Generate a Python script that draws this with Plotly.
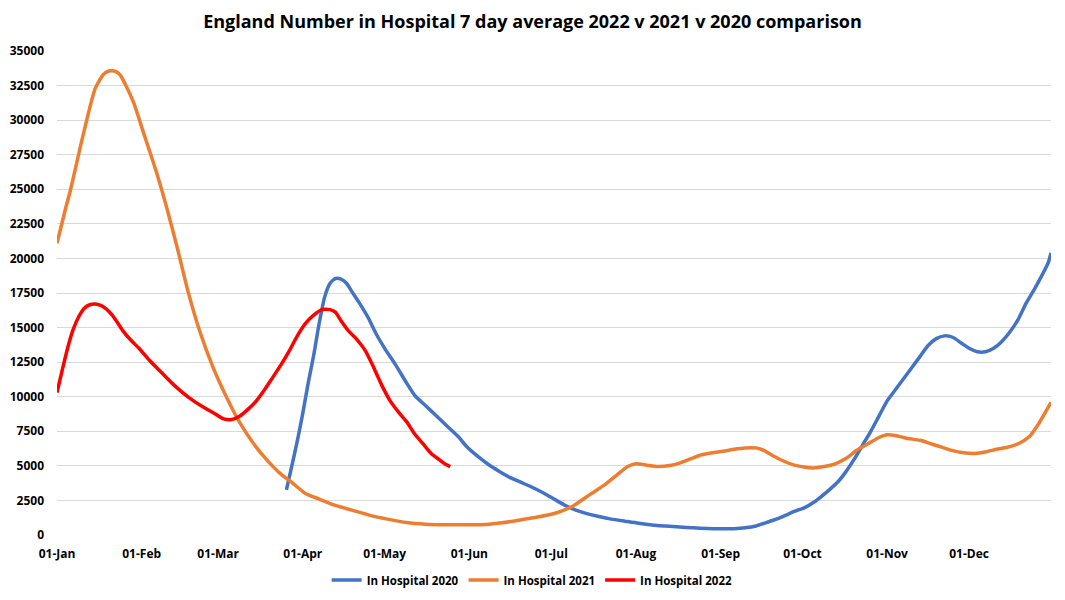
import pandas as pd
import plotly.graph_objects as go

# all three years drawn on a common Jan..Dec axis (non-leap reference year)
BASE = pd.Timestamp("2021-01-01")

# 7 day average number in hospital (day of year offset, value)
days_2020 = [84, 86, 88, 90, 92, 94, 96, 98, 100, 102, 104, 106, 108, 111, 114, 117, 120, 124,
             128, 131, 135, 139, 143, 147, 150, 154, 158, 162, 166, 170, 174, 178, 182, 186, 190,
             194, 198, 203, 208, 213, 218, 223, 228, 233, 238, 243, 248, 252, 256, 259, 262, 266,
             270, 274, 277, 280, 283, 286, 289, 292, 295, 298, 301, 304, 307, 310, 313, 316, 319,
             322, 325, 328, 331, 334, 337, 340, 343, 346, 349, 352, 355, 358, 361, 363, 364]
hosp_2020 = [3270, 5000, 6800, 8800, 11000, 13000, 15300, 17200, 18200, 18550, 18500, 18200, 17600,
             16700, 15700, 14500, 13500, 12300, 11000, 10100, 9350, 8600, 7850, 7100, 6400, 5700,
             5100, 4600, 4150, 3800, 3450, 3050, 2600, 2150, 1800, 1550, 1350, 1150, 1000, 850, 730,
             650, 580, 520, 470, 450, 460, 520, 650, 850, 1050, 1350, 1700, 2000, 2350, 2800, 3300,
             3850, 4600, 5500, 6500, 7500, 8600, 9700, 10500, 11300, 12100, 12900, 13700, 14200,
             14400, 14300, 13900, 13500, 13250, 13250, 13500, 14000, 14700, 15600, 16800, 17800,
             18900, 19700, 20400]

days_2021 = [0, 3, 5, 8, 11, 14, 17, 19, 21, 23, 25, 28, 32, 36, 40, 44, 48, 52, 57, 62, 67, 72, 77,
             82, 86, 91, 96, 101, 108, 115, 121, 128, 135, 142, 150, 157, 163, 170, 176, 181, 185,
             189, 195, 201, 206, 209, 212, 216, 220, 225, 228, 232, 236, 240, 244, 248, 252, 256,
             259, 262, 266, 270, 274, 277, 281, 285, 289, 293, 297, 301, 304, 307, 311, 316, 320,
             324, 328, 332, 336, 340, 344, 348, 352, 356, 359, 362, 364]
hosp_2021 = [21100, 23500, 25000, 27600, 30100, 32300, 33300, 33550, 33550, 33300, 32600, 31300,
             28900, 26500, 23800, 20800, 17600, 14900, 12200, 10000, 8100, 6600, 5400, 4400, 3800,
             3000, 2600, 2200, 1800, 1400, 1150, 900, 780, 740, 740, 760, 880, 1100, 1300, 1500,
             1750, 2100, 2900, 3700, 4500, 4950, 5150, 5050, 4950, 5050, 5200, 5500, 5800, 5950,
             6050, 6200, 6300, 6300, 6100, 5750, 5350, 5050, 4900, 4850, 4950, 5150, 5550, 6150,
             6600, 7050, 7250, 7200, 7000, 6850, 6600, 6350, 6100, 5950, 5900, 6000, 6200, 6350,
             6600, 7100, 7900, 8900, 9600]

days_2022 = [0, 2, 4, 6, 8, 10, 12, 14, 16, 18, 20, 22, 24, 27, 30, 34, 38, 42, 46, 50, 54, 58, 61,
             64, 67, 70, 73, 76, 79, 82, 85, 88, 91, 94, 97, 100, 102, 104, 107, 110, 113, 116, 119,
             122, 125, 128, 131, 134, 137, 140, 142, 144]
hosp_2022 = [10300, 12000, 13600, 14900, 15800, 16400, 16650, 16700, 16600, 16350, 15950, 15400,
             14800, 14100, 13500, 12600, 11800, 11000, 10300, 9700, 9200, 8750, 8400, 8350, 8600,
             9100, 9700, 10500, 11400, 12300, 13300, 14400, 15300, 15900, 16300, 16300, 16100, 15500,
             14700, 14100, 13300, 12100, 10800, 9700, 8900, 8200, 7300, 6600, 5900, 5450, 5150, 4950]

month_ticks = pd.date_range("2021-01-01", "2021-12-01", freq="MS")

series = [
    ("In Hospital 2020", days_2020, hosp_2020, "#4472C4"),
    ("In Hospital 2021", days_2021, hosp_2021, "#ED7D31"),
    ("In Hospital 2022", days_2022, hosp_2022, "#FF0000"),
]

fig = go.Figure()
for name, days, vals, colour in series:
    fig.add_trace(go.Scatter(
        x=BASE + pd.to_timedelta(days, unit="D"),
        y=vals,
        mode="lines",
        name=name,
        line=dict(color=colour, width=3.5, shape="spline", smoothing=0.6),
    ))

# page body keeps its 8px margin, so the figure is 16px smaller than the 1065x600 window
fig.update_layout(
    title=dict(
        text="England Number in Hospital 7 day average 2022 v 2021 v 2020 comparison",
        font=dict(size=18, color="#000000", weight="bold"),
        x=0.5, xanchor="center", y=0.976, yanchor="middle",
    ),
    xaxis=dict(
        type="date",
        range=["2021-01-01", "2021-12-31"],
        tickvals=month_ticks,
        tickformat="%d-%b",
        showgrid=False,
        zeroline=False,
        showline=False,
        ticks="",
        ticklabelstandoff=10,
        automargin=False,
        tickfont=dict(size=12, color="#000000", weight="bold"),
    ),
    yaxis=dict(
        range=[0, 35000],
        dtick=2500,
        tickformat="d",
        showgrid=True,
        gridcolor="#D9D9D9",
        gridwidth=1,
        zeroline=False,
        showline=False,
        ticks="",
        ticklabelstandoff=12,
        automargin=False,
        tickfont=dict(size=12, color="#000000", weight="bold"),
    ),
    legend=dict(
        orientation="h",
        x=0.478, xanchor="center",
        y=-0.093, yanchor="middle",
        font=dict(size=11.5, color="#000000", weight="bold"),
        itemwidth=30,
        tracegroupgap=0,
    ),
    font=dict(family="Open Sans, sans-serif"),
    plot_bgcolor="white",
    paper_bgcolor="white",
    # autoexpand off: the legend must not squeeze the plot area
    margin=dict(l=49, r=6, t=43, b=57, autoexpand=False),
    width=1049,
    height=584,
    showlegend=True,
)

fig.write_html("out.html", config={"displayModeBar": False})
